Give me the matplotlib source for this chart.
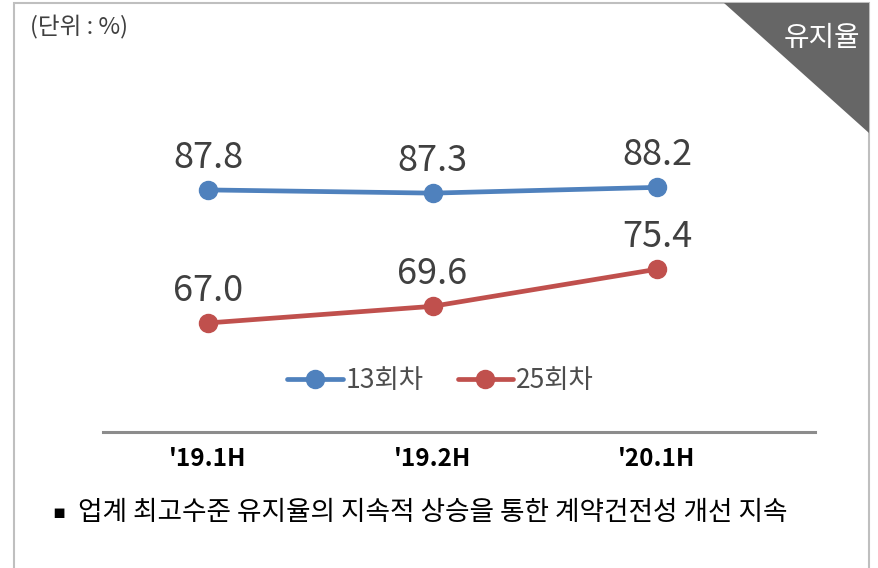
import matplotlib
matplotlib.use('Agg')
import matplotlib.pyplot as plt
from matplotlib.patches import Polygon, Rectangle

plt.rcParams['font.family'] = ['Noto Sans CJK KR', 'DejaVu Sans']

periods = ["'19.1H", "'19.2H", "'20.1H"]
series_names = ['13회차', '25회차']
rate_13 = [87.8, 87.3, 88.2]
rate_25 = [67.0, 69.6, 75.4]
colors = ['#4f81bd', '#c0504d']

fig = plt.figure(figsize=(8.79, 5.68), dpi=100)

# frame and corner tag
fig.patches.append(Rectangle((14 / 879, -0.1), 855 / 879, 1.1 - 3 / 568,
                             transform=fig.transFigure, fill=False,
                             edgecolor='#bfbfbf', linewidth=1.5))
fig.patches.append(Polygon([(724 / 879, 1 - 3 / 568), (869 / 879, 1 - 3 / 568),
                            (869 / 879, 1 - 133 / 568)], closed=True,
                           transform=fig.transFigure, facecolor='#666666',
                           edgecolor='none'))
fig.text(822 / 879, 1 - 38 / 568, '유지율', color='white', fontsize=20,
         ha='center', va='center')
fig.text(30 / 879, 1 - 27 / 568, '(단위 : %)', color='#404040', fontsize=17,
         ha='left', va='center')

ax = fig.add_axes([103 / 879, 0.24, 712 / 879, 0.563])
x = range(len(periods))
for vals, name, c in zip([rate_13, rate_25], series_names, colors):
    ax.plot(x, vals, color=c, linewidth=3.4, marker='o', markersize=13,
            label=name, solid_capstyle='round')
    for xi, v in zip(x, vals):
        ax.annotate(f'{v:.1f}', (xi, v), xytext=(0, 23), textcoords='offset points',
                    ha='center', va='center', fontsize=26, color='#404040')

ax.set_xlim(-0.468, 2.704)
ax.set_ylim(50, 100)
for s in ['top', 'right', 'left']:
    ax.spines[s].set_visible(False)
ax.spines['bottom'].set_color('#8c8c8c')
ax.spines['bottom'].set_linewidth(2.2)
ax.set_yticks([])
ax.set_xticks(list(x))
ax.set_xticklabels(periods, fontsize=17.5, fontweight='bold', color='#000000')
ax.tick_params(axis='x', length=0, pad=11)
ax.patch.set_alpha(0)

leg = ax.legend(loc='center', bbox_to_anchor=(0.474, 0.16), ncol=2, frameon=False,
                fontsize=19, handlelength=2.1, handletextpad=0.1, columnspacing=1.3)
for t in leg.get_texts():
    t.set_color('#4d4d4d')

fig.text(52 / 879, 1 - 513 / 568, '▪', fontsize=14, color='#000000',
         ha='left', va='center', family=['DejaVu Sans'])
fig.text(78 / 879, 1 - 513 / 568, '업계 최고수준 유지율의 지속적 상승을 통한 계약건전성 개선 지속',
         fontsize=19.2, color='#000000', ha='left', va='center')

fig.savefig('out.png', dpi=100)
